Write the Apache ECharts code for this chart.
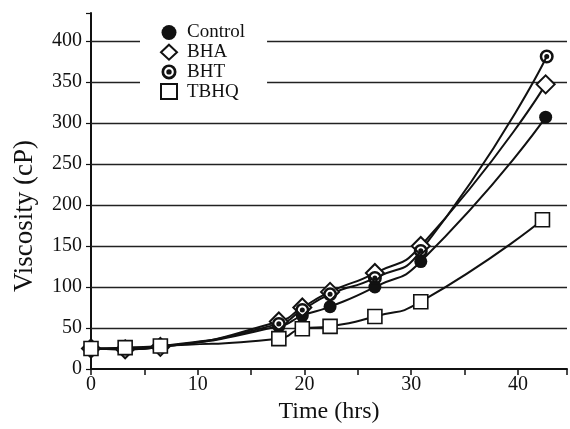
<!DOCTYPE html>
<html>
<head>
<meta charset="utf-8">
<script src="https://cdn.jsdelivr.net/npm/echarts@6/dist/echarts.min.js"></script>
<style>
  html, body { margin: 0; padding: 0; background: #fff; }
  #chart { width: 570px; height: 429px; }
</style>
</head>
<body>
<div id="chart"></div>
<script>
// sampling times (hrs), last sample differs a little per series
var hours = [0, 3.2, 6.5, 17.6, 19.8, 22.4, 26.6, 30.9]
var endHours = [42.6, 42.6, 42.7, 42.3]
// viscosity (cP)
var control = [25, 24, 27, 52, 65, 76, 100, 131, 307]
var bha = [25, 24, 27, 58, 75, 94, 117, 150, 347]
var bht = [25, 25, 28, 55, 72, 91, 111, 144, 381]
var tbhq = [25, 26, 28, 37, 49, 52, 64, 82, 182]
var gridValues = [50, 100, 150, 200, 250, 300, 350, 400]

var font = 'Liberation Serif'
var ink = '#111'
var ringDot = 'path://M10,0A10,10,0,1,1,10,20A10,10,0,1,1,10,0Z' +
  'M10,3.6A6.4,6.4,0,1,0,10,16.4A6.4,6.4,0,1,0,10,3.6Z' +
  'M10,6.4A3.6,3.6,0,1,1,10,13.6A3.6,3.6,0,1,1,10,6.4Z'

function pairs(vals, i) {
  var xs = hours.concat([endHours[i]])
  return vals.map(function(v, k) { return [xs[k], v] })
}

function makeSeries(name, vals, i, symbol, size, itemStyle) {
  return {
    name: name,
    type: 'line',
    smooth: 0.6,
    data: pairs(vals, i),
    symbol: symbol,
    symbolSize: size,
    showAllSymbol: true,
    lineStyle: { color: ink, width: 2 },
    itemStyle: itemStyle,
    z: 3
  }
}

var chart = echarts.init(document.getElementById('chart'))

var series = [
  makeSeries('Control', control, 0, 'circle', 13, { color: ink }),
  makeSeries('BHA', bha, 1, 'diamond', 18, { color: '#fff', borderColor: ink, borderWidth: 2 }),
  makeSeries('BHT', bht, 2, ringDot, 14, { color: ink }),
  makeSeries('TBHQ', tbhq, 3, 'rect', 14, { color: '#fff', borderColor: ink, borderWidth: 1.6 })
]
// horizontal rules
series[0].markLine = {
  silent: true,
  symbol: ['none', 'none'],
  label: { show: false },
  lineStyle: { color: '#222', width: 1.3, type: 'solid' },
  data: gridValues.map(function(v) { return { yAxis: v } }),
  z: 1
}

chart.setOption({
  animation: false,
  backgroundColor: '#fff',
  grid: { left: 91, right: 0, top: 13, bottom: 56 },
  legend: {
    orient: 'vertical',
    left: 140,
    top: 19,
    itemGap: 0.7,
    itemWidth: 16,
    itemHeight: 15,
    backgroundColor: '#fff',
    padding: [4, 22, 6, 20],
    data: [
      { name: 'Control', icon: 'circle' },
      { name: 'BHA', icon: 'diamond' },
      { name: 'BHT', icon: ringDot },
      { name: 'TBHQ', icon: 'rect' }
    ],
    textStyle: { fontFamily: font, fontSize: 19, color: ink, padding: [0, 0, 0, 5] }
  },
  xAxis: {
    type: 'value',
    min: 0,
    max: 44.6,
    interval: 5,
    name: 'Time (hrs)',
    nameLocation: 'middle',
    nameGap: 31,
    nameTextStyle: { fontFamily: font, fontSize: 24, color: ink },
    axisLine: { lineStyle: { color: ink, width: 2 } },
    axisTick: { length: 6, lineStyle: { color: ink, width: 1.5 } },
    axisLabel: {
      fontFamily: font, fontSize: 20, color: ink, margin: 6,
      formatter: function(v) { return v % 10 === 0 ? v : '' }
    },
    splitLine: { show: false }
  },
  yAxis: {
    type: 'value',
    min: 0,
    max: 434,
    interval: 50,
    name: 'Viscosity (cP)',
    nameLocation: 'middle',
    nameGap: 53,
    nameTextStyle: { fontFamily: font, fontSize: 27, color: ink, padding: [0, 50, 0, 0] },
    axisLine: { show: true, lineStyle: { color: ink, width: 2 } },
    axisTick: { length: 5, lineStyle: { color: ink, width: 1.2 } },
    axisLabel: {
      fontFamily: font, fontSize: 20, color: ink, margin: 9,
      formatter: function(v) { return v % 50 === 0 ? v : '' }
    },
    splitLine: { show: false }
  },
  series: series
})
</script>
</body>
</html>
